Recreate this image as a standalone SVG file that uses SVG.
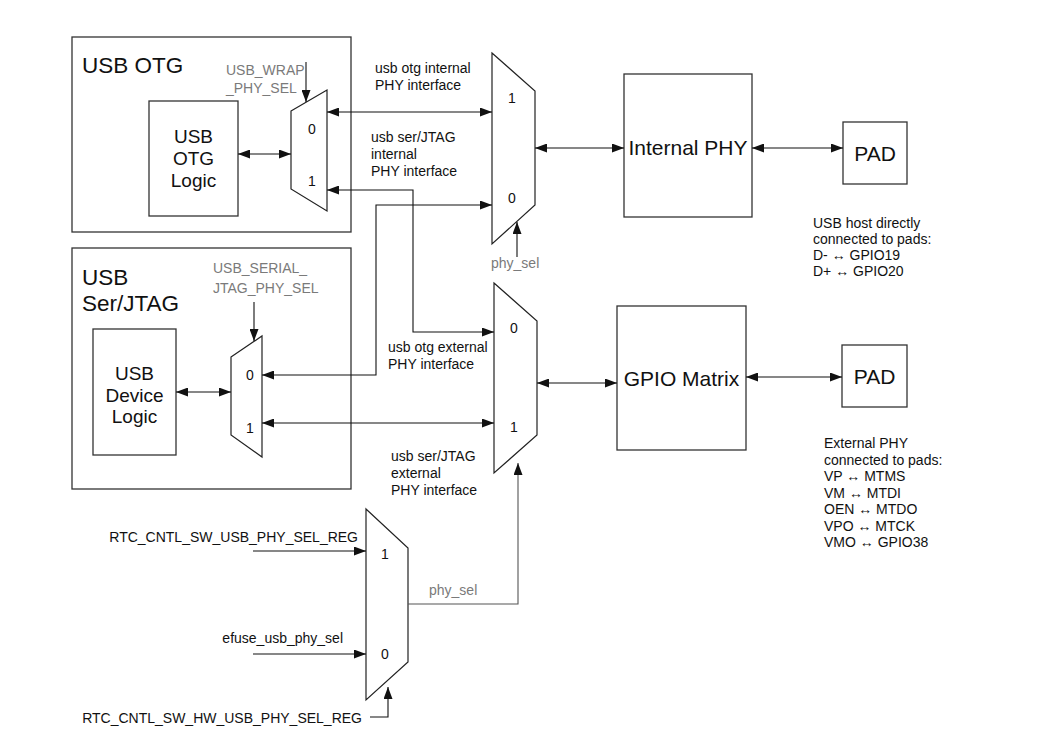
<svg xmlns="http://www.w3.org/2000/svg" width="1037" height="740" viewBox="0 0 1037 740">
  <style>
    .box { fill: #ffffff; stroke: #333333; stroke-width: 1.3; }
    .mux { fill: #ffffff; stroke: #222222; stroke-width: 1.2; }
    .wire { fill: none; stroke: #111111; stroke-width: 1.1; }
    .wire2 { fill: none; stroke: #111111; stroke-width: 1.1; marker-start: url(#ah); marker-end: url(#ah); }
    .wire1 { fill: none; stroke: #111111; stroke-width: 1.1; marker-end: url(#ah); }
    .t { font-family: "Liberation Sans", Arial, sans-serif; fill: #111111; }
    .big { font-size: 22.5px; }
    .mid { font-size: 19px; }
    .lab { font-size: 21px; }
    .sm { font-size: 14px; }
    .gray { fill: #7a7a7a; }
  </style>
  <defs>
    <marker id="ah" viewBox="0 0 12 9" refX="12" refY="4.5" markerWidth="12" markerHeight="9" markerUnits="userSpaceOnUse" orient="auto-start-reverse">
      <path d="M0,0 L12,4.5 L0,9 z" fill="#111111"/>
    </marker>
  </defs>
  <rect width="1037" height="740" fill="#ffffff"/>

  <!-- USB OTG block -->
  <g id="usb-otg">
    <rect class="box" x="72" y="37" width="279" height="195"/>
    <text class="t big" x="82" y="73">USB OTG</text>
  </g>
  <g id="usb-otg-logic">
    <rect class="box" x="149" y="101" width="89" height="115"/>
    <text class="t mid" x="193.5" y="143" text-anchor="middle">USB</text>
    <text class="t mid" x="193.5" y="165" text-anchor="middle">OTG</text>
    <text class="t mid" x="193.5" y="187" text-anchor="middle">Logic</text>
  </g>
  <g id="mux-otg">
    <polygon class="mux" points="291,111 327,90 327,211 291,189"/>
    <text class="t sm" x="312" y="134" text-anchor="middle">0</text>
    <text class="t sm" x="312" y="186" text-anchor="middle">1</text>
    <text class="t sm gray" x="226" y="75">USB_WRAP</text>
    <text class="t sm gray" x="226" y="93">_PHY_SEL</text>
  </g>

  <!-- USB Serial/JTAG block -->
  <g id="usb-serial-jtag">
    <rect class="box" x="72" y="248" width="279" height="241"/>
    <text class="t big" x="82" y="285">USB</text>
    <text class="t big" x="82" y="311">Ser/JTAG</text>
  </g>
  <g id="usb-device-logic">
    <rect class="box" x="93" y="329" width="83" height="126"/>
    <text class="t mid" x="134.5" y="380" text-anchor="middle">USB</text>
    <text class="t mid" x="134.5" y="402" text-anchor="middle">Device</text>
    <text class="t mid" x="134.5" y="423" text-anchor="middle">Logic</text>
  </g>
  <g id="mux-serial-jtag">
    <polygon class="mux" points="231,357 262,336 262,457 231,435"/>
    <text class="t sm" x="250" y="380" text-anchor="middle">0</text>
    <text class="t sm" x="250" y="433" text-anchor="middle">1</text>
    <text class="t sm gray" x="213" y="273">USB_SERIAL_</text>
    <text class="t sm gray" x="213" y="293">JTAG_PHY_SEL</text>
  </g>

  <!-- PHY selection muxes -->
  <g id="mux-internal">
    <polygon class="mux" points="492,53 535,91 535,205 492,244"/>
    <text class="t sm" x="512" y="103" text-anchor="middle">1</text>
    <text class="t sm" x="512" y="203" text-anchor="middle">0</text>
    <text class="t sm gray" x="491" y="268">phy_sel</text>
  </g>
  <g id="mux-external">
    <polygon class="mux" points="494,283 537,321 537,435 494,473"/>
    <text class="t sm" x="514" y="333" text-anchor="middle">0</text>
    <text class="t sm" x="514" y="432" text-anchor="middle">1</text>
  </g>
  <g id="mux-phy-sel">
    <polygon class="mux" points="366,509 408,548 408,662 366,700"/>
    <text class="t sm" x="385" y="559" text-anchor="middle">1</text>
    <text class="t sm" x="385" y="659" text-anchor="middle">0</text>
    <text class="t sm gray" x="429" y="595">phy_sel</text>
  </g>

  <!-- PHY and pads -->
  <g id="internal-phy">
    <rect class="box" x="624" y="74" width="128" height="143"/>
    <text class="t lab" x="688" y="155" text-anchor="middle">Internal PHY</text>
  </g>
  <g id="pad-internal">
    <rect class="box" x="843" y="122" width="64" height="62"/>
    <text class="t lab" x="875" y="161" text-anchor="middle">PAD</text>
  </g>
  <g id="gpio-matrix">
    <rect class="box" x="617" y="306" width="129" height="144"/>
    <text class="t lab" x="681.5" y="386" text-anchor="middle">GPIO Matrix</text>
  </g>
  <g id="pad-external">
    <rect class="box" x="842" y="345" width="65" height="62"/>
    <text class="t lab" x="874.5" y="384" text-anchor="middle">PAD</text>
  </g>

  <!-- Pin notes -->
  <g id="note-internal">
    <text class="t sm" x="813" y="228">USB host directly</text>
    <text class="t sm" x="813" y="244">connected to pads:</text>
    <text class="t sm" x="813" y="260">D- ↔ GPIO19</text>
    <text class="t sm" x="813" y="276">D+ ↔ GPIO20</text>
  </g>
  <g id="note-external">
    <text class="t sm" x="824" y="448">External PHY</text>
    <text class="t sm" x="824" y="464.5">connected to pads:</text>
    <text class="t sm" x="824" y="481">VP ↔ MTMS</text>
    <text class="t sm" x="824" y="497.5">VM ↔ MTDI</text>
    <text class="t sm" x="824" y="514">OEN ↔ MTDO</text>
    <text class="t sm" x="824" y="530.5">VPO ↔ MTCK</text>
    <text class="t sm" x="824" y="547">VMO ↔ GPIO38</text>
  </g>

  <!-- Interface labels -->
  <g id="interface-labels">
    <text class="t sm" x="375" y="73">usb otg internal</text>
    <text class="t sm" x="375" y="90">PHY interface</text>
    <text class="t sm" x="371" y="142">usb ser/JTAG</text>
    <text class="t sm" x="371" y="159">internal</text>
    <text class="t sm" x="371" y="176">PHY interface</text>
    <text class="t sm" x="388" y="352">usb otg external</text>
    <text class="t sm" x="388" y="369">PHY interface</text>
    <text class="t sm" x="391" y="461">usb ser/JTAG</text>
    <text class="t sm" x="391" y="478">external</text>
    <text class="t sm" x="391" y="495">PHY interface</text>
  </g>

  <!-- Register inputs -->
  <g id="register-inputs">
    <text class="t sm" x="358" y="542" text-anchor="end">RTC_CNTL_SW_USB_PHY_SEL_REG</text>
    <text class="t sm" x="343" y="643" text-anchor="end">efuse_usb_phy_sel</text>
    <text class="t sm" x="362" y="723" text-anchor="end">RTC_CNTL_SW_HW_USB_PHY_SEL_REG</text>
  </g>

  <!-- Connectors -->
  <g id="connectors">
    <line class="wire2" x1="238" y1="154" x2="291" y2="154"/>
    <line class="wire2" x1="176" y1="392" x2="231" y2="392"/>
    <line class="wire2" x1="327" y1="112" x2="492" y2="112"/>
    <path class="wire2" d="M327,190 H413 V332 H494"/>
    <path class="wire2" d="M262,375 H376 V205 H492"/>
    <line class="wire2" x1="262" y1="423" x2="494" y2="423"/>
    <line class="wire2" x1="535" y1="148" x2="624" y2="148"/>
    <line class="wire2" x1="752" y1="148" x2="843" y2="148"/>
    <line class="wire2" x1="537" y1="383" x2="617" y2="383"/>
    <line class="wire2" x1="746" y1="377" x2="842" y2="377"/>
    <line class="wire1" x1="517" y1="257" x2="517" y2="222"/>
    <path class="wire1" d="M408,604 H518 V463" style="stroke:#555555"/>
    <line class="wire1" x1="306" y1="62" x2="306" y2="102"/>
    <line class="wire1" x1="254" y1="302" x2="254" y2="341"/>
    <line class="wire1" x1="253" y1="551" x2="366" y2="551"/>
    <line class="wire1" x1="253" y1="654" x2="366" y2="654"/>
    <path class="wire1" d="M370,717 H388 V687"/>
  </g>
</svg>
